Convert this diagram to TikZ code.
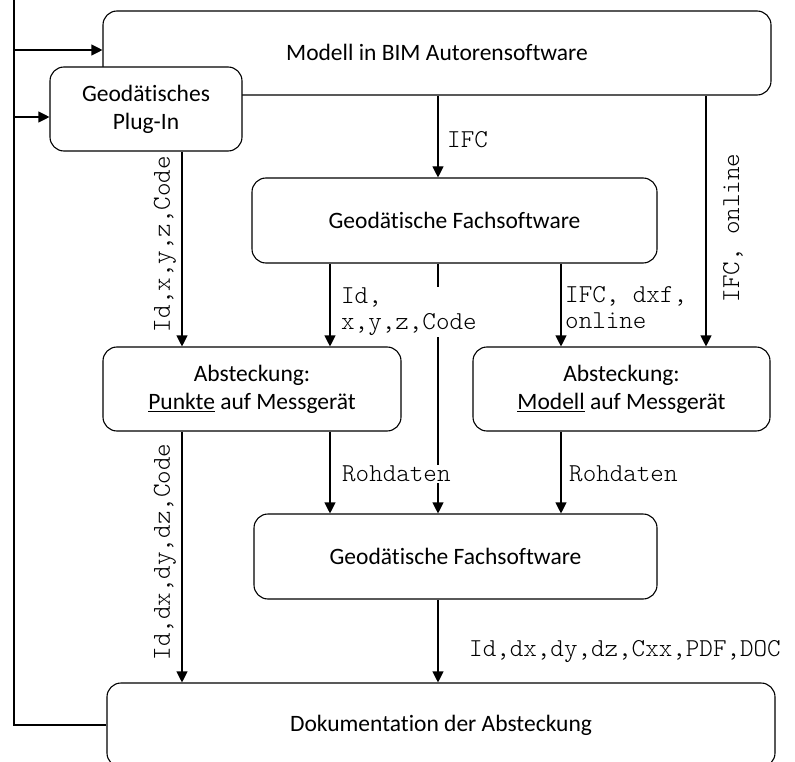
\documentclass[tikz,border=0pt]{standalone}
\usepackage{fontspec}
\setmainfont{Carlito}[Ligatures=NoCommon]
\newfontfamily\monof{lmmonolt10-regular}[Extension=.otf]
\usetikzlibrary{arrows.meta}
\begin{document}
\begin{tikzpicture}[x=1pt,y=-1pt,
  box/.style={draw,rounded corners=14pt,line width=1.1pt,fill=white,align=center,font=\fontsize{23.5}{28}\selectfont,inner sep=0pt},
  arr/.style={line width=1.1pt,-{Triangle[width=11pt,length=11pt]}},
  lab/.style={font=\monof\fontsize{25.8}{26}\selectfont,inner sep=1pt,align=left},
  wlab/.style={lab,fill=white}]
\clip (0,0) rectangle (795,762);
\useasboundingbox (0,0) rectangle (795,762);
% columns
\coordinate (c1) at (182,0);
\coordinate (c2) at (330,0);
\coordinate (c3) at (438,0);
\coordinate (c4) at (561,0);
\coordinate (c5) at (706,0);
\coordinate (lx) at (14,0);
% boxes
\node[box,minimum width=668pt,minimum height=84pt] (modell) at (437,53) {\raisebox{2pt}{Modell in BIM Autorensoftware}};
\node[box,minimum width=192pt,minimum height=84pt] (plugin) at (146,109) {Geodätisches\\Plug-In};
\node[box,minimum width=405pt,minimum height=85pt] (fach1) at (454.5,220.5) {Geodätische Fachsoftware};
\node[box,minimum width=298pt,minimum height=84pt] (punkte) at (252,389) {Absteckung:\\\underline{Punkte} auf Messgerät};
\node[box,minimum width=297pt,minimum height=84pt] (modella) at (621.5,389) {Absteckung:\\\underline{Modell} auf Messgerät};
\node[box,minimum width=403pt,minimum height=85pt] (fach2) at (455.5,556.5) {Geodätische Fachsoftware};
\node[box,minimum width=668pt,minimum height=84pt] (doku) at (441,725) {Dokumentation der Absteckung};
% connectors
\draw[arr] (modell.south -| c3) -- (fach1.north -| c3);
\draw[arr] (modell.south -| c5) -- (modella.north -| c5);
\draw[arr] (plugin.south -| c1) -- (punkte.north -| c1);
\draw[arr] (fach1.south -| c2) -- (punkte.north -| c2);
\draw[arr] (fach1.south -| c4) -- (modella.north -| c4);
\draw[arr] (fach1.south -| c3) -- (fach2.north -| c3);
\draw[arr] (punkte.south -| c1) -- (doku.north -| c1);
\draw[arr] (punkte.south -| c2) -- (fach2.north -| c2);
\draw[arr] (modella.south -| c4) -- (fach2.north -| c4);
\draw[arr] (fach2.south -| c3) -- (doku.north -| c3);
\draw[arr] (doku.west) -| (lx) |- ([yshift=3pt]modell.west);
\draw[arr] (lx |- 0,117) -- (plugin.west |- 0,117);
% labels
\node[lab,anchor=west] (l1) at (446,140) {IFC};
\node[lab,rotate=90] (l2) at (733,228) {IFC, online};
\node[lab,rotate=90] (l3) at (165,244) {Id,x,y,z,Code};
\node[wlab,anchor=west] (l4) at (340,312) {Id,\\x,y,z,Code};
\node[wlab,anchor=west] (l5) at (564,308) {IFC, dxf,\\online};
\node[wlab,anchor=west] (l6) at (341,474) {Rohdaten};
\node[wlab,anchor=west] (l7) at (568,474) {Rohdaten};
\node[lab,rotate=90] (l8) at (165,552) {Id,dx,dy,dz,Code};
\node[lab,anchor=west] (l9) at (468,652) {Id,dx,dy,dz,Cxx,PDF,DOC};
\end{tikzpicture}
\end{document}
